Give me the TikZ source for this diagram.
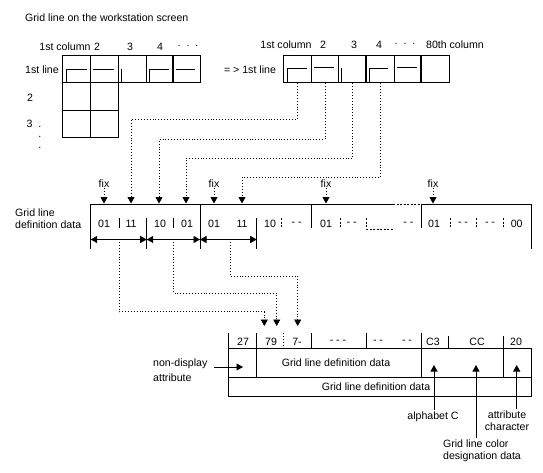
\documentclass[tikz,border=0pt]{standalone}
\usepackage{fontspec}
\setmainfont{Liberation Sans}
\usetikzlibrary{arrows.meta}
\begin{document}
\begin{tikzpicture}[x=1pt,y=-1pt,
  every node/.style={inner sep=0pt, font=\fontsize{10.6}{12}\selectfont},
  ln/.style={line width=0.9pt},
  thk/.style={line width=1.9pt},
  cellbox/.style={draw, line width=0.9pt, anchor=north west, minimum height=27.5pt},
  dotl/.style={line width=0.9pt, dash pattern=on 0.9pt off 2pt},
  tip/.style={-{Triangle[width=7pt,length=6.5pt]}},
  dtip/.style={{Triangle[width=7pt,length=6.5pt]}-{Triangle[width=7pt,length=6.5pt]}},
  brk/.style={line width=0.9pt, dash pattern=on 2pt off 1.5pt},
]
\useasboundingbox (0,0) rectangle (543,473);

% ---------- title ----------
\node[anchor=west] (title) at (25,18) {Grid line on the workstation screen};

% ---------- left grid ----------
\node (lh1) at (65,47) {1st column};
\node (lh2) at (97,47) {2};
\node (lh3) at (130,47) {3};
\node (lh4) at (160,47) {4};
\node (lh5) at (188,46) {.\ \ .\ \ .};
\node (ll1) at (42,70) {1st line};
\node (ll2) at (30,98) {2};
\node[anchor=north west, align=left, font=\fontsize{10.6}{10.5}\selectfont] (ll3) at (26.5,119.5)
  {3\ \ .\\\phantom{3\ \ }.\\\phantom{3\ \ }.};

\foreach \i/\x/\w in {1/62/28,2/90/28,3/118/28,4/146/27,5/173/27}
  \node[cellbox, minimum width=\w pt] (L\i) at (\x,55) {};
\node[cellbox, minimum width=28pt] (L21) at (62,82.5) {};
\node[cellbox, minimum width=28pt] (L22) at (90,82.5) {};
\node[cellbox, minimum width=28pt] (L31) at (62,110) {};
\node[cellbox, minimum width=28pt] (L32) at (90,110) {};
\draw[thk] (L5.north west) -- (L5.south west);
\draw[ln] (66.5,82) -- (66.5,69) -- (87,69);
\draw[ln] (93,69) -- (114,69);
\draw[ln] (121.5,82) -- (121.5,69);
\draw[ln] (149,82) -- (149,69) -- (169,69);
\draw[ln] (176,69) -- (195,69);

% ---------- right grid ----------
\node (rh1) at (286,45) {1st column};
\node (rh2) at (323,45) {2};
\node (rh3) at (354,45) {3};
\node (rh4) at (379,45) {4};
\node (rh5) at (405,44) {.\ \ .\ \ .};
\node (rh6) at (455,45) {80th column};
\node (arr) at (250,70) {= >\ 1st line};

\foreach \i in {1,...,6}
  \node[cellbox, minimum width=27.67pt] (R\i) at ({283+(\i-1)*27.67},55) {};
\draw[thk] (R4.north west) -- (R4.south west);
\draw[thk] (R6.north west) -- (R6.south west);
\draw[ln] (287,82) -- (287,68) -- (307,68);
\draw[ln] (314,67.5) -- (334,67.5);
\draw[ln] (341,82) -- (341,68);
\draw[ln] (369,82) -- (369,68) -- (388,68);
\draw[ln] (397,67.5) -- (417,67.5);

% ---------- definition data bar ----------
\node[anchor=west] (gl1) at (15,213) {Grid line};
\node[anchor=west] (gl2) at (15,225) {definition data};

\foreach \n/\x in {1/104,2/131,3/159,4/186,5/214,6/242,7/326,8/433}
  \coordinate (t\n) at (\x,203.5);
\foreach \n/\x in {1/104,2/214,3/326,4/433}
  \node (f\n) at (\x,184) {fix};
\draw[dotl,tip] (f1.south) -- (t1);
\draw[dotl,tip] (f2.south) -- (t5);
\draw[dotl,tip] (f3.south) -- (t7);
\draw[dotl,tip] (f4.south) -- (t8);

\draw[dotl,tip] (R1.south) -- ++(0,36) -| (t2);
\draw[dotl,tip] (R2.south) -- ++(0,56) -| (t3);
\draw[dotl,tip] (R3.south) -- ++(0,75) -| (t4);
\draw[dotl,tip] (R4.south) -- ++(0,94) -| (t6);

\draw[ln] (90.7,204) -- (393,204);
\draw[brk] (393,204) -- (421.7,204);
\draw[ln] (421.7,204) -- (531.7,204);
\draw[ln] (90.7,204) -- (90.7,249);
\draw[ln] (119.3,218) -- (119.3,228);
\draw[ln] (146.7,218) -- (146.7,249);
\draw[ln] (173.3,218) -- (173.3,228);
\draw[ln] (200,204) -- (200,249);
\draw[ln] (256.7,218) -- (256.7,249);
\draw[brk] (281.7,218) -- (281.7,228);
\draw[ln] (311.7,204) -- (311.7,228);
\draw[brk] (340,218) -- (340,228);
\draw[brk] (366.7,218) -- (366.7,229) -- (393,229);
\draw[ln] (421.7,204) -- (421.7,228);
\draw[brk] (450,218) -- (450,228);
\draw[brk] (476.7,218) -- (476.7,228);
\draw[brk] (503.3,218) -- (503.3,228);
\draw[ln] (531.7,204) -- (531.7,249);

\foreach \x/\t in {104/01,131/11,160/10,187/01,214/01,242/11,270/10,296.7/- -,326/01,351.7/- -,408.3/- -,434/01,463/- -,490/- -,516.7/00}
  \node at (\x,223.5) {\t};

\coordinate (s0) at (90.7,239.5);
\coordinate (s1) at (146.7,239.5);
\coordinate (s2) at (200,239.5);
\coordinate (s3) at (256.7,239.5);
\draw[ln,dtip] (s0) -- (s1);
\draw[ln,dtip] (s1) -- (s2);
\draw[ln,dtip] (s2) -- (s3);

\coordinate (b1) at (119.3,242);
\coordinate (b2) at (173.3,242);
\coordinate (b3) at (230,242);
\coordinate (u1) at (264.3,326);
\coordinate (u2) at (276.7,326);
\coordinate (u3) at (297.7,326);
\draw[dotl,tip] (b1) -- ++(0,69.7) -| (u1);
\draw[dotl,tip] (b2) -- ++(0,51) -| (u2);
\draw[dotl,tip] (b3) -- ++(0,34) -| (u3);

% ---------- lower box ----------
\draw[ln] (228.3,348.3) -- (531.7,348.3);
\draw[ln] (228.3,377) -- (531.7,377);
\draw[ln] (228.3,396) -- (531.7,396);
\draw[ln] (228.3,333) -- (228.3,396);
\draw[ln] (256.7,333) -- (256.7,377);
\draw[dotl] (283.3,333) -- (283.3,348);
\draw[ln] (311,333) -- (311,348);
\draw[ln] (366.7,333) -- (366.7,348);
\draw[ln] (421.7,333) -- (421.7,377);
\draw[ln] (448.3,336) -- (448.3,348);
\draw[ln] (503.3,336) -- (503.3,377);
\draw[ln] (531.7,348.3) -- (531.7,396);

\foreach \x/\t in {243/27,271/79,297/7-,338/- - -,378/- -,407/- -,433/C3,477/CC,516/20}
  \node at (\x,341.5) {\t};
\node (gd1) at (336,363) {Grid line definition data};
\node (gd2) at (376,387) {Grid line definition data};

\node[anchor=west] (nd) at (153,364) {non-display};
\node[anchor=west] (na) at (153,378) {attribute};
\coordinate (nA) at (214,367);
\coordinate (nB) at (243,367);
\draw[ln,tip] (nA) -- (nB);

\coordinate (ua) at (434,365);
\coordinate (ug) at (476,365);
\coordinate (uc) at (516.7,365);
\node (alph) at (433,417) {alphabet C};
\node[align=center] (attr) at (507,421) {attribute\\character};
\node[align=left] (glc) at (482,451) {Grid line color\\designation data};
\draw[ln,tip] ([yshift=2pt]alph.north -| ua) -- (ua);
\draw[ln,tip] ([yshift=2pt]attr.north -| uc) -- (uc);
\draw[ln,tip] ([yshift=2pt]glc.north -| ug) -- (ug);
\end{tikzpicture}
\end{document}
